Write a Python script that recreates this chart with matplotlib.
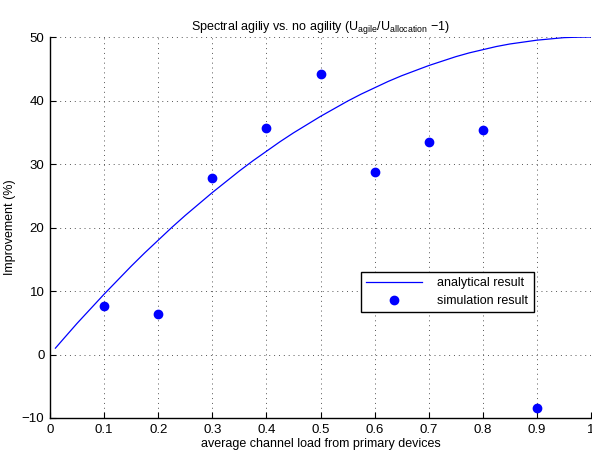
import matplotlib
matplotlib.use("Agg")
import matplotlib.pyplot as plt

plt.rcParams['font.family'] = ['Liberation Sans', 'DejaVu Sans']
plt.rcParams['mathtext.fontset'] = 'custom'
plt.rcParams['mathtext.rm'] = 'Liberation Sans'
plt.rcParams['mathtext.it'] = 'Liberation Sans:italic'

# analytical result
x_ana = [0.01, 0.025, 0.05, 0.075, 0.1, 0.125, 0.15, 0.175, 0.2, 0.225, 0.25,
         0.275, 0.3, 0.325, 0.35, 0.375, 0.4, 0.425, 0.45, 0.475, 0.5,
         0.525, 0.55, 0.575, 0.6, 0.625, 0.65, 0.675, 0.7, 0.725, 0.75,
         0.775, 0.8, 0.825, 0.85, 0.875, 0.9, 0.925, 0.95, 0.975, 1.0]
y_ana = [1.0, 2.47, 4.9, 7.2, 9.5, 11.7, 13.9, 16.0, 18.0, 20.0, 21.9,
         23.7, 25.5, 27.2, 28.9, 30.5, 32.0, 33.5, 34.9, 36.2, 37.5,
         38.7, 39.9, 41.0, 42.0, 43.0, 43.9, 44.7, 45.5, 46.2, 46.9,
         47.5, 48.0, 48.5, 48.9, 49.2, 49.5, 49.7, 49.9, 49.97, 50.0]

# simulation result
x_sim = [0.1, 0.2, 0.3, 0.4, 0.5, 0.6, 0.7, 0.8, 0.9]
y_sim = [7.6, 6.4, 27.8, 35.6, 44.2, 28.7, 33.4, 35.3, -8.4]

xticks = [0, 0.1, 0.2, 0.3, 0.4, 0.5, 0.6, 0.7, 0.8, 0.9, 1]
xticklabels = ['0', '0.1', '0.2', '0.3', '0.4', '0.5', '0.6', '0.7', '0.8', '0.9', '1']
yticks = [-10, 0, 10, 20, 30, 40, 50]

fig = plt.figure(figsize=(5.92, 4.53), dpi=100)
ax = fig.add_axes([50/592, 1-418/453, 541/592, (418-37)/453])

ax.plot(x_ana, y_ana, color='#0000ff', lw=0.9, label='analytical result')
ax.plot(x_sim, y_sim, 'o', color='#0000ff', ms=6, label='simulation result')

ax.set_xlim(0, 1)
ax.set_ylim(-10, 50)
ax.set_xticks(xticks)
ax.set_xticklabels(xticklabels)
ax.set_yticks(yticks)
ax.tick_params(direction='in', length=4, width=0.8, labelsize=9.5, colors='black', pad=4)
for s in ['top', 'right']:
    ax.spines[s].set_visible(False)
for s in ['left', 'bottom']:
    ax.spines[s].set_linewidth(1.0)
ax.grid(True, linestyle=(0, (1, 4)), color='#555555', lw=0.7)

ax.set_xlabel('average channel load from primary devices', fontsize=9, labelpad=2)
ax.set_ylabel('Improvement (%)', fontsize=9, labelpad=4)
ax.set_title(r'Spectral agiliy vs. no agility (U$_{\mathrm{agile}}$/U$_{\mathrm{allocation}}$ $-$1)',
             fontsize=9, pad=5)

leg = ax.legend(loc='lower left', bbox_to_anchor=(0.574, 0.278, 0.321, 0.142), mode='expand',
                fontsize=9, frameon=True, fancybox=False, edgecolor='black',
                borderaxespad=0, handlelength=4.5, labelspacing=0.45, handletextpad=1.2)
leg.get_frame().set_linewidth(1.0)
leg.get_frame().set_alpha(1)

fig.savefig('out.png', dpi=100)
